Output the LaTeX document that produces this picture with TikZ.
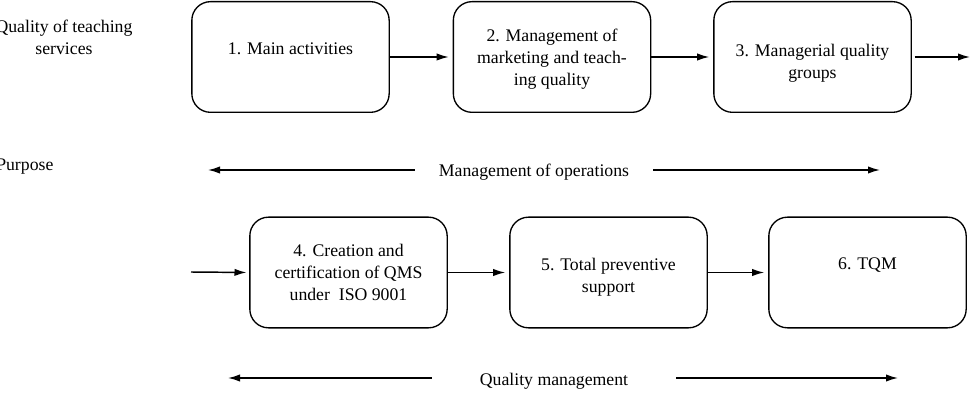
\documentclass[tikz,border=0pt]{standalone}
\usepackage{fontspec}
\setmainfont{Liberation Serif}
\usetikzlibrary{arrows.meta,positioning}

\tikzset{
  stage/.style={draw, line width=1pt, rounded corners=14pt, minimum width=148pt, minimum height=83pt},
  txt/.style={align=center, inner sep=0pt, font=\fontsize{13.3}{16.5}\selectfont},
  flow/.style={-{Latex[length=9pt,width=5.5pt]}, line width=1.1pt}
}

\begin{document}
\begin{tikzpicture}[x=0.75pt,y=-0.75pt]
\useasboundingbox (0,0) rectangle (980,416);
% row labels
\node[txt] (qts) at (64,37) {Quality of teaching\\services};
\node[txt, anchor=west] (purp) at (-4,167) {Purpose};
% first row
\node[stage] (s1) at (290.5,57) {};
\node[stage] (s2) at (552,57) {};
\node[stage] (s3) at (812.5,57) {};
\node[txt, below=31pt of s1.north] (t1) {1. Main activities};
\node[txt] (t2) at ([yshift=-1.5pt]s2) {2. Management of\\marketing and teach-\\ing quality};
\node[txt, below=32pt of s3.north] (t3) {3. Managerial quality\\groups};
\coordinate (out1) at (970,57);
\draw[flow, shorten >=3pt] (s1.east) -- (s2.west);
\draw[flow, shorten >=3pt] (s2.east) -- (s3.west);
\draw[flow, shorten <=2pt] (s3.east) -- (out1);
% management of operations
\node[txt, inner xsep=18pt] (ops) at (534,172) {Management of operations};
\coordinate (opsL) at (208,170);
\coordinate (opsR) at (880,170);
\draw[flow] (ops.west |- opsL) -- (opsL);
\draw[flow] (ops.east |- opsR) -- (opsR);
% second row
\node[stage] (s4) at (348.5,272.5) {};
\node[stage] (s5) at (608.5,272.5) {};
\node[stage] (s6) at (867.5,272.5) {};
\node[txt] (t4) at (s4) {4. Creation and\\certification of QMS\\under\ \ ISO 9001};
\node[txt, below=31pt of s5.north] (t5) {5. Total preventive\\support};
\node[txt, below=31pt of s6.north] (t6) {6. TQM};
\coordinate (in2) at (191,272);
\draw[flow, shorten >=2pt] (in2) -- (s4.west);
\draw[flow, shorten >=3pt] (s4.east) -- (s5.west);
\draw[flow, shorten >=3pt] (s5.east) -- (s6.west);
% quality management
\node[txt, inner xsep=36pt] (qm) at (554,381) {Quality management};
\coordinate (qmL) at (228,378);
\coordinate (qmR) at (898,378);
\draw[flow] (qm.west |- qmL) -- (qmL);
\draw[flow] (qm.east |- qmR) -- (qmR);
\end{tikzpicture}
\end{document}
